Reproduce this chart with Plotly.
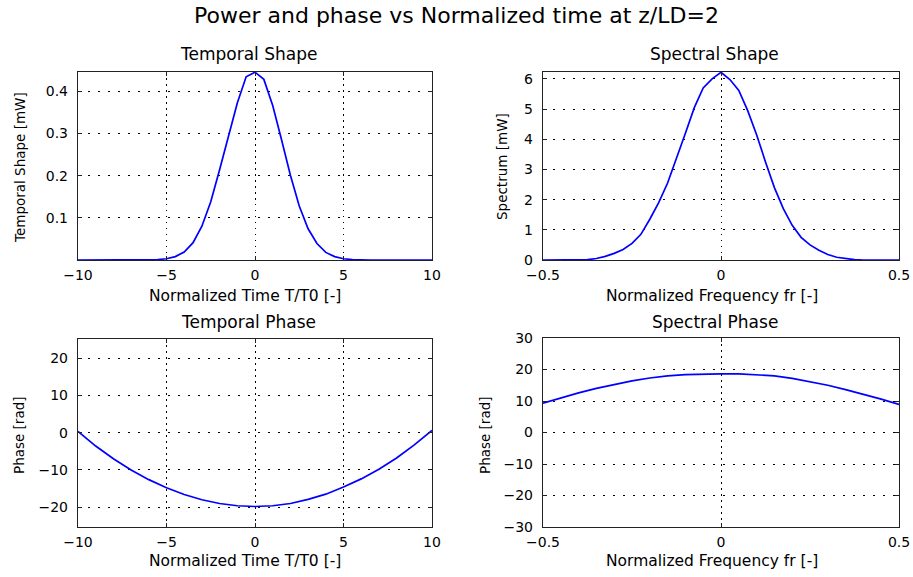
import plotly.graph_objects as go

W, H = 913, 577

# ---------------- data ----------------
time_t = [-10, -9.5, -9, -8.5, -8, -7.5, -7, -6.5, -6, -5.5, -5, -4.5, -4, -3.5, -3, -2.5, -2, -1.5, -1, -0.5,
          0, 0.5, 1, 1.5, 2, 2.5, 3, 3.5, 4, 4.5, 5, 5.5, 6, 6.5, 7, 7.5, 8, 8.5, 9, 9.5, 10]
temporal_power = [0, 0, 0, 0, 0, 0, 0, 0, 0, 0.001, 0.003, 0.008, 0.019, 0.041, 0.08, 0.138, 0.214, 0.296, 0.372, 0.434,
                  0.445, 0.428, 0.366, 0.285, 0.201, 0.128, 0.074, 0.039, 0.018, 0.008, 0.003, 0.001, 0, 0, 0, 0, 0, 0, 0, 0, 0]

phase_t = [-10, -9, -8, -7, -6, -5, -4, -3, -2, -1, 0, 1, 2, 3, 4, 5, 6, 7, 8, 9, 10]
temporal_phase = [0.3, -3.6, -7.0, -10.0, -12.6, -14.8, -16.6, -18.0, -19.0, -19.6, -19.8,
                  -19.6, -19.0, -17.9, -16.5, -14.6, -12.4, -9.8, -6.8, -3.3, 0.6]

freq = [-0.5, -0.475, -0.45, -0.425, -0.4, -0.375, -0.35, -0.325, -0.3, -0.275, -0.25, -0.225, -0.2, -0.175,
        -0.15, -0.125, -0.1, -0.075, -0.05, -0.025, 0, 0.025, 0.05, 0.075, 0.1, 0.125, 0.15, 0.175, 0.2, 0.225,
        0.25, 0.275, 0.3, 0.325, 0.35, 0.375, 0.4, 0.425, 0.45, 0.475, 0.5]
spectrum = [0, 0, 0, 0, 0, 0.01, 0.05, 0.12, 0.22, 0.35, 0.55, 0.85, 1.35, 1.9,
            2.55, 3.35, 4.2, 5.05, 5.7, 6.0, 6.22, 5.98, 5.62, 4.95, 4.15, 3.25, 2.4, 1.7, 1.15, 0.75,
            0.5, 0.32, 0.18, 0.09, 0.04, 0.01, 0, 0, 0, 0, 0]

phase_f = [-0.5, -0.45, -0.4, -0.35, -0.3, -0.25, -0.2, -0.15, -0.1, -0.05, 0, 0.05, 0.1, 0.15, 0.2, 0.25,
           0.3, 0.35, 0.4, 0.45, 0.5]
spectral_phase = [9.3, 11.0, 12.6, 14.0, 15.3, 16.4, 17.3, 18.0, 18.4, 18.6, 18.6, 18.6, 18.4, 18.0, 17.2, 16.2,
                  15.0, 13.6, 12.2, 10.6, 8.9]

x_ticks_t = [-10, -5, 0, 5, 10]
x_ticks_f = [-0.5, 0, 0.5]
y_ticks_tp = [0.1, 0.2, 0.3, 0.4]
y_ticks_sp = [0, 1, 2, 3, 4, 5, 6]
y_ticks_ph_t = [-20, -10, 0, 10, 20]
y_ticks_ph_f = [-30, -20, -10, 0, 10, 20, 30]

# ---------------- layout helpers ----------------
FONT = "DejaVu Sans, Verdana, sans-serif"
BLUE = "#0000ff"


def px_x(x):
    return x / W


def px_y(y):
    return 1 - y / H


boxes = {
    1: (78, 432, 72, 260),
    2: (543, 899, 72, 260),
    3: (78, 432, 339, 527),
    4: (543, 899, 338, 527),
}

fig = go.Figure()

series = [
    (time_t, temporal_power),
    (freq, spectrum),
    (phase_t, temporal_phase),
    (phase_f, spectral_phase),
]
for i, (xs, ys) in enumerate(series, start=1):
    fig.add_trace(go.Scatter(x=xs, y=ys, mode="lines", line=dict(color=BLUE, width=1.7),
                             xaxis="x" if i == 1 else f"x{i}", yaxis="y" if i == 1 else f"y{i}",
                             showlegend=False, hoverinfo="skip"))

axis_common = dict(
    showline=True, linecolor="#222222", linewidth=1.4, mirror="ticks",
    ticks="inside", ticklen=4, tickcolor="#222222", tickwidth=1,
    showgrid=True, gridcolor="#000000", gridwidth=1,
    zeroline=False, tickfont=dict(family=FONT, size=14, color="#000000"),
    fixedrange=True, automargin=False,
)

specs = {
    1: dict(xr=[-10, 10], xt=x_ticks_t, yr=[0, 0.4455], yt=y_ticks_tp, ytxt=["0.1", "0.2", "0.3", "0.4"]),
    2: dict(xr=[-0.5, 0.5], xt=x_ticks_f, yr=[0, 6.23], yt=y_ticks_sp, ytxt=None),
    3: dict(xr=[-10, 10], xt=x_ticks_t, yr=[-25.3, 25.1], yt=y_ticks_ph_t, ytxt=None),
    4: dict(xr=[-0.5, 0.5], xt=x_ticks_f, yr=[-30, 30], yt=y_ticks_ph_f, ytxt=None),
}

layout = dict(
    width=W, height=H, margin=dict(l=0, r=0, t=0, b=0, pad=0, autoexpand=False),
    paper_bgcolor="white", plot_bgcolor="white", showlegend=False,
)
for i, s in specs.items():
    x0, x1, y0, y1 = boxes[i]
    xname = "xaxis" if i == 1 else f"xaxis{i}"
    yname = "yaxis" if i == 1 else f"yaxis{i}"
    xa = dict(axis_common, domain=[px_x(x0), px_x(x1)], range=s["xr"], tickvals=s["xt"],
              anchor="y" if i == 1 else f"y{i}", griddash="1.5px,4.5px", ticklabelstandoff=2)
    ya = dict(axis_common, domain=[px_y(y1), px_y(y0)], range=s["yr"], tickvals=s["yt"],
              anchor="x" if i == 1 else f"x{i}", griddash="2px,8px", ticklabelstandoff=6)
    if s["ytxt"] is not None:
        ya["ticktext"] = s["ytxt"]
    layout[xname] = xa
    layout[yname] = ya

fig.update_layout(**layout)

anns = []


def add_text(text, x, y, size=14, angle=0):
    anns.append(dict(text=text, x=px_x(x), y=px_y(y), xref="paper", yref="paper",
                     showarrow=False, xanchor="center", yanchor="middle", textangle=angle,
                     font=dict(family=FONT, size=size, color="#000000")))


add_text("Power and phase vs Normalized time at z/LD=2", 456, 16, size=22)
add_text("Temporal Shape", 249, 54, size=17)
add_text("Spectral Shape", 714, 54, size=17)
add_text("Temporal Phase", 248, 322, size=17)
add_text("Spectral Phase", 715, 322, size=17)
add_text("Normalized Time T/T0 [-]", 245, 296, size=15.5)
add_text("Normalized Frequency fr [-]", 712, 296, size=15.5)
add_text("Normalized Time T/T0 [-]", 245, 561, size=15.5)
add_text("Normalized Frequency fr [-]", 712, 561, size=15.5)
add_text("Temporal Shape [mW]", 20, 168, angle=-90, size=13.5)
add_text("Spectrum [mW]", 502, 167, angle=-90, size=13.5)
add_text("Phase [rad]", 19, 435, angle=-90, size=13.5)
add_text("Phase [rad]", 485, 435, angle=-90, size=13.5)

fig.update_layout(annotations=anns)

fig.write_html("out.html")
